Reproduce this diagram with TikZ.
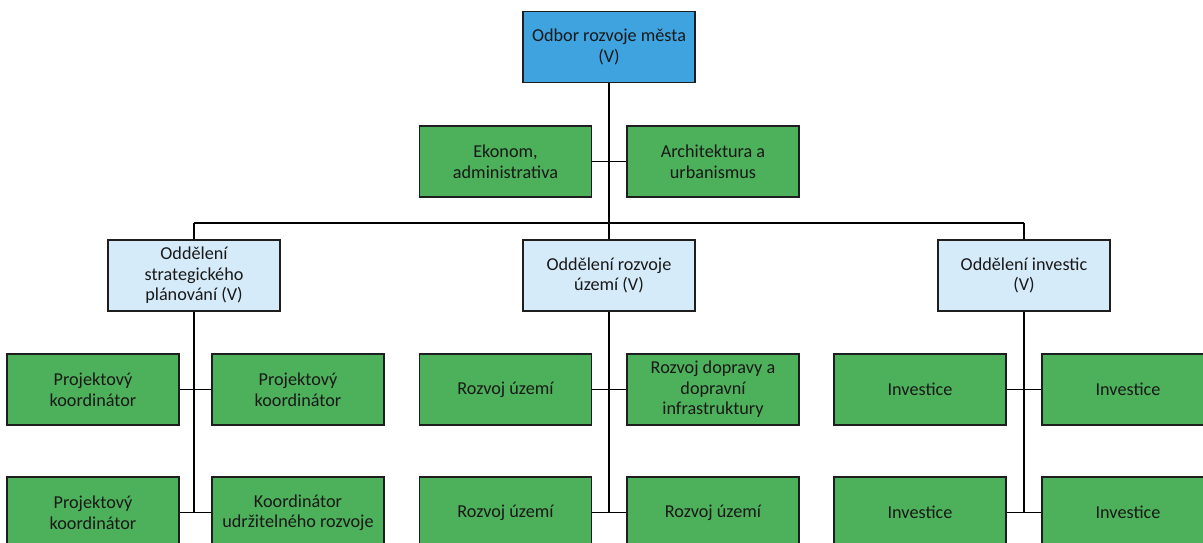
\documentclass[tikz,border=0pt]{standalone}
\usepackage{fontspec}
\setmainfont{Carlito}
\definecolor{topblue}{RGB}{62,163,222}
\definecolor{lightblue}{RGB}{214,235,249}
\definecolor{boxgreen}{RGB}{77,176,90}
\definecolor{edge}{RGB}{30,30,30}
\tikzset{
  box/.style={draw=edge, line width=1.7pt, minimum width=172pt, minimum height=71pt,
    align=center, inner sep=2pt, font=\fontsize{18.2}{20.5}\selectfont, text=black!90},
  headbox/.style={box, fill=topblue},
  deptbox/.style={box, fill=lightblue},
  unitbox/.style={box, fill=boxgreen},
  conn/.style={draw=black, line width=1.8pt}
}
\begin{document}
\begin{tikzpicture}[x=1pt,y=-1pt]
\useasboundingbox (0,0) rectangle (1203,542);
\clip (0,0) rectangle (1203,542);
\fill[white] (0,0) rectangle (1203,542);
% nodes
\node[headbox] (top) at (609,47) {Odbor rozvoje města\\(V)};
\node[unitbox] (ekon) at (505.5,161.5) {Ekonom,\\administrativa};
\node[unitbox] (arch) at (713,161.5) {Architektura a\\urbanismus};
\node[deptbox] (strat) at (194,275.5) {Oddělení\\strategického\\plánování (V)};
\node[deptbox] (rozv) at (609,275.5) {Oddělení rozvoje\\území (V)};
\node[deptbox] (inv) at (1024,275.5) {Oddělení investic\\(V)};
\node[unitbox] (s1) at (93,389.5) {Projektový\\koordinátor};
\node[unitbox] (s2) at (298,389.5) {Projektový\\koordinátor};
\node[unitbox] (s3) at (93,512.5) {Projektový\\koordinátor};
\node[unitbox] (s4) at (298,512.5) {Koordinátor\\udržitelného rozvoje};
\node[unitbox] (r1) at (505.5,389.5) {Rozvoj území};
\node[unitbox] (r2) at (713,389.5) {Rozvoj dopravy a\\dopravní\\infrastruktury};
\node[unitbox] (r3) at (505.5,512.5) {Rozvoj území};
\node[unitbox] (r4) at (713,512.5) {Rozvoj území};
\node[unitbox] (i1) at (920,389.5) {Investice};
\node[unitbox] (i2) at (1128,389.5) {Investice};
\node[unitbox] (i3) at (920,512.5) {Investice};
\node[unitbox] (i4) at (1128,512.5) {Investice};
% bus
\coordinate (busL) at (194,223);
\coordinate (busR) at (1024,223);
% connectors
\draw[conn] (top.south) -- (rozv.north);
\draw[conn] (ekon.east) -- (arch.west);
\draw[conn] (busL) -- (busR);
\draw[conn] (busL) -- (strat.north);
\draw[conn] (busR) -- (inv.north);
\draw[conn] (strat.south) -- (strat.south |- s3.east);
\draw[conn] (s1.east) -- (s2.west);
\draw[conn] (s3.east) -- (s4.west);
\draw[conn] (rozv.south) -- (rozv.south |- r3.east);
\draw[conn] (r1.east) -- (r2.west);
\draw[conn] (r3.east) -- (r4.west);
\draw[conn] (inv.south) -- (inv.south |- i3.east);
\draw[conn] (i1.east) -- (i2.west);
\draw[conn] (i3.east) -- (i4.west);
\end{tikzpicture}
\end{document}
